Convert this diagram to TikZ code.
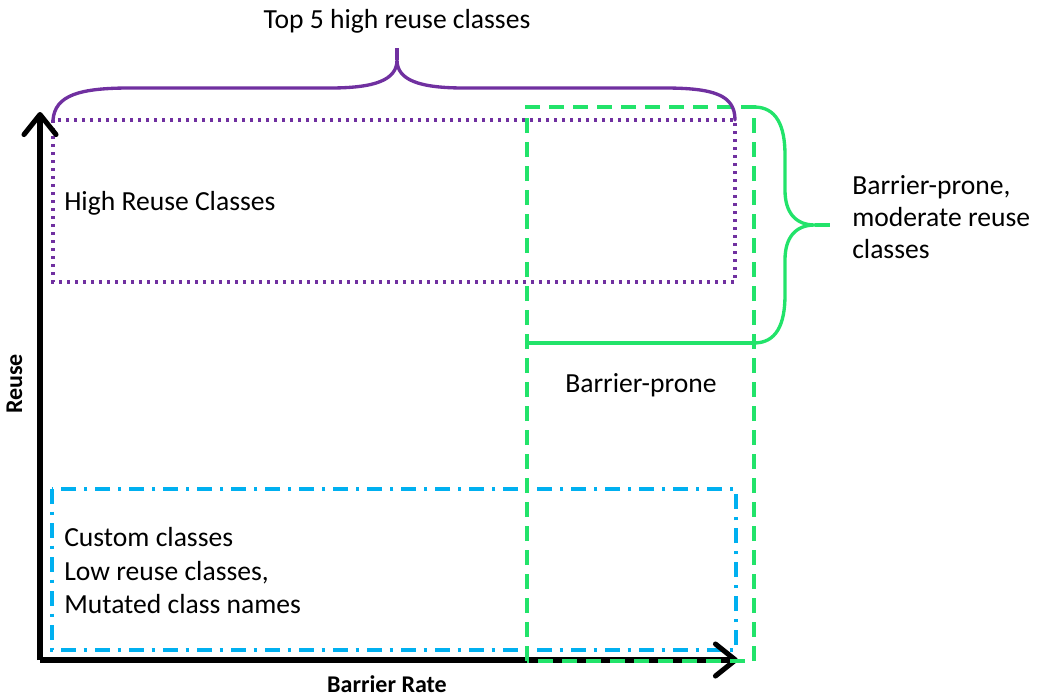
\documentclass[tikz,border=0pt]{standalone}
\usepackage{fontspec}
\setmainfont{Carlito}
\usetikzlibrary{arrows.meta}
\definecolor{reusepurple}{HTML}{7030A0}
\definecolor{pronegreen}{HTML}{22E36A}
\definecolor{lowblue}{HTML}{00B0F0}
\tikzset{
  axisline/.style={line width=3.8pt, -{Straight Barb[length=15pt,width=24pt,line width=3.8pt,round]}},
  highbox/.style={draw=reusepurple, line width=2.6pt, dash pattern=on 2.6pt off 3.4pt},
  pronebox/.style={draw=pronegreen, line width=2.5pt, dash pattern=on 11pt off 7pt},
  lowbox/.style={draw=lowblue, line width=2.8pt, dash pattern=on 11pt off 6pt on 2.5pt off 6pt},
  purplebrace/.style={draw=reusepurple, line width=2.5pt},
  greenbrace/.style={draw=pronegreen, line width=2.5pt},
  bodytext/.style={font=\fontsize{20.7}{25}\selectfont, inner sep=0pt},
  axislabel/.style={font=\fontsize{18}{22}\selectfont\bfseries, inner sep=0pt}
}
\begin{document}
\begin{tikzpicture}[x=0.75pt,y=-0.75pt]
\useasboundingbox (0,0) rectangle (1043,696);

% axes
\coordinate (origin) at (40,660);
\coordinate (ytip) at (40,112);
\coordinate (xtip) at (738,660);

% region boxes
\coordinate (hiNW) at (53,120);
\coordinate (hiSE) at (735,282);
\coordinate (loNW) at (52,489);
\coordinate (loSE) at (736,650);
\coordinate (prNW) at (527,107);
\coordinate (prSE) at (754,661);
\coordinate (prMidL) at (527,343);
\coordinate (prMidR) at (754,343);
\coordinate (prNE) at (754,107);
\coordinate (prSW) at (527,661);

\draw[lowbox] (loNW) rectangle (loSE);
\draw[highbox] (hiNW) rectangle (hiSE);

\draw[axisline] (origin) -- (ytip);
\draw[axisline] (origin) -- (xtip);

\draw[pronebox] (prSW) -- (prNW) -- (prNE) -- (prSE) -- cycle;
\draw[greenbrace] (prMidL) -- (prMidR);

% brace over the high reuse box
\coordinate (topTip) at (397,48);
\draw[purplebrace, line cap=round]
  (hiNW) .. controls (55,95) and (80,88) .. (130,88) -- (330,88)
  .. controls (375,88) and (397,80) .. (397,60)
  .. controls (397,80) and (419,88) .. (464,88) -- (664,88)
  .. controls (714,88) and (735,95) .. (hiSE |- hiNW);
\draw[purplebrace] (397,60) -- (topTip);

% brace beside the upper part of the barrier-prone box
\coordinate (sideTip) at (830,225);
\draw[greenbrace]
  (prNE) .. controls (776,107) and (785,125) .. (785,155) -- (785,190)
  .. controls (785,212) and (795,225) .. (815,225)
  .. controls (795,225) and (785,238) .. (785,260) -- (785,295)
  .. controls (785,325) and (776,343) .. (prMidR);
\draw[greenbrace] (815,225) -- (sideTip);

% labels
\node[bodytext, anchor=base] (toplabel) at (397,28) {Top 5 high reuse classes};
\node[bodytext, anchor=base west] (hilabel) at (64,210) {High Reuse Classes};
\node[bodytext, anchor=base west] (prlabel) at (565,392) {Barrier-prone};
\node[bodytext, anchor=north west, align=left, font=\fontsize{20.7}{24.2}\selectfont] (modlabel) at (852,175)
  {Barrier-prone,\\moderate reuse\\classes};
\node[bodytext, anchor=north west, align=left] (lolabel) at (64,527.5)
  {Custom classes\\Low reuse classes,\\Mutated class names};
\node[axislabel, anchor=base] (xlabel) at (387,692) {Barrier Rate};
\node[axislabel, rotate=90, anchor=base] (ylabel) at (22,384) {Reuse};
\end{tikzpicture}
\end{document}
